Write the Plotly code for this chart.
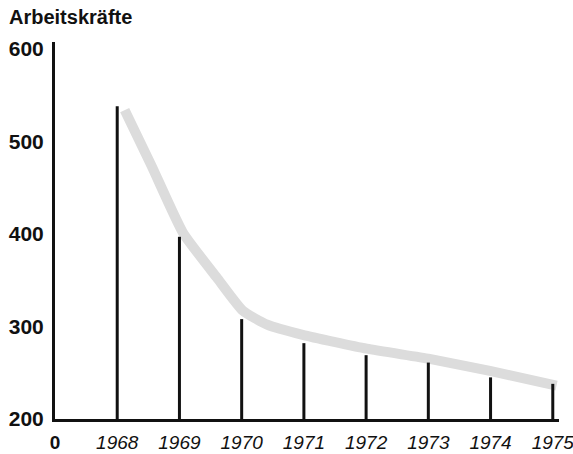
import plotly.graph_objects as go

# ---- data ----
years = [1968, 1969, 1970, 1971, 1972, 1973, 1974, 1975]
workers = [538, 397, 308, 282, 269, 261, 245, 238]

# hand-drawn grey trend band (x in years, y in workers)
trend_x = [1968.12, 1968.55, 1969.06, 1969.60, 1970.02, 1970.41, 1970.98, 1972.01, 1973.02, 1973.99, 1975.06]
trend_y = [534, 474, 401, 353, 317, 302, 291, 276, 265, 252, 236]

x_tickvals = [1967] + years
x_ticktext = ["<b>0</b>"] + ["<i>%d</i>" % y for y in years]
y_tickvals = [200, 300, 400, 500, 600]

# vertical stems from the baseline to each value
stem_x, stem_y = [], []
for yr, v in zip(years, workers):
    stem_x += [yr, yr, None]
    stem_y += [y_tickvals[0], v, None]

fig = go.Figure()
fig.add_trace(go.Scatter(
    x=trend_x, y=trend_y, mode="lines",
    line=dict(color="#dcdcdc", width=10, shape="spline", smoothing=0.5),
    hoverinfo="skip", showlegend=False,
))
fig.add_trace(go.Scatter(
    x=stem_x, y=stem_y, mode="lines",
    line=dict(color="#111111", width=3),
    showlegend=False,
))

W, H = 573, 454
L, R, T, B = 55, 14, 42, 35
PW, PH = W - L - R, H - T - B

fig.update_layout(
    width=W, height=H,
    margin=dict(l=L, r=R, t=T, b=B),
    paper_bgcolor="white", plot_bgcolor="white",
    font=dict(family="Liberation Sans, Arial, sans-serif", color="#111111"),
    showlegend=False,
    annotations=[dict(
        text="<b>Arbeitskräfte</b>", x=(7 - L) / PW, y=1 + (T - 17) / PH,
        xref="paper", yref="paper",
        showarrow=False, font=dict(size=20, color="#111111"),
        xanchor="left", yanchor="middle",
    )],
)

fig.update_xaxes(
    range=[1967, 1975.1], tickmode="array", tickvals=x_tickvals, ticktext=x_ticktext,
    showgrid=False, zeroline=False, showline=True, linecolor="#111111", linewidth=3,
    ticks="", tickfont=dict(size=19, color="#111111"), ticklabelstandoff=4,
    ticklabeloverflow="allow", automargin=False,
)
fig.update_yaxes(
    range=[200, 607.6], tickmode="array", tickvals=y_tickvals,
    ticktext=["<b>%d</b>" % v for v in y_tickvals],
    showgrid=False, zeroline=False, showline=True, linecolor="#111111", linewidth=3,
    ticks="", tickfont=dict(size=21, color="#111111"), ticklabelstandoff=4,
    automargin=False,
)

# remove the default 8px page margin so the 573x454 figure fills the window exactly
fig.write_html(
    "out.html",
    config={"displayModeBar": False},
    post_script="document.body.style.margin='0';document.body.style.overflow='hidden';",
)
